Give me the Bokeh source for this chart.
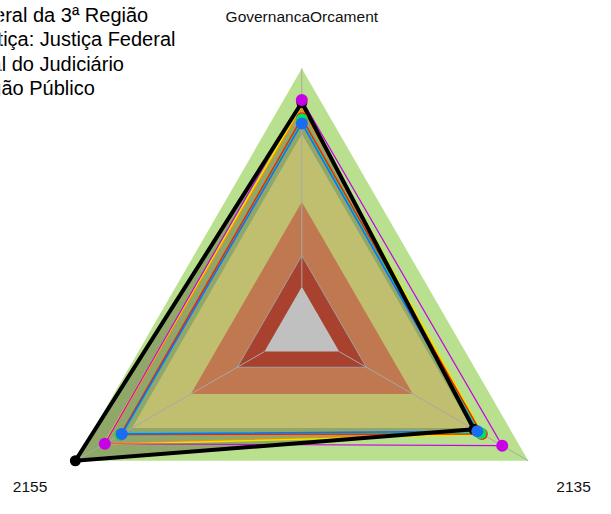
import numpy as np
from bokeh.plotting import figure
from bokeh.models import Label, Range1d
from bokeh.core.properties import value
from bokeh.embed import file_html
from bokeh.resources import INLINE

# ---- data ----
axes_labels = ["GovernancaOrcament", "2135", "2155"]
axes_angles_deg = [90, -30, 210]

band_levels = [1.0, 0.75, 0.49, 0.285, 0.165]
band_colors = ["#b8e08e", "#c0bf70", "#c07850", "#a8422e", "#c0c0c0"]

legend_labels = [
    "Tribunal Regional Federal da 3ª Região",
    "Ramo de Justiça: Justiça Federal",
    "Total do Judiciário",
    "Órgão Público",
]

black_vals = [0.87, 0.76, 1.00]
magenta_vals = [0.88, 0.885, 0.87]
orange_vals = [0.85, 0.79, 0.87]
yellow_vals = [0.86, 0.80, 0.875]
cyan_vals = [0.795, 0.785, 0.79]
green_vals = [0.805, 0.79, 0.80]
red_vals = [0.81, 0.795, 0.80]
blue_vals = [0.79, 0.775, 0.795]

FONT_NAME = "Liberation Sans"
FONT = value(FONT_NAME)
ang = np.deg2rad(axes_angles_deg)


def xy(vals):
    v = np.asarray(vals, dtype=float)
    return list(v * np.cos(ang)), list(v * np.sin(ang))


def closed(vals):
    x, y = xy(vals)
    return x + [x[0]], y + [y[0]]


W, H = 595, 498
K = 0.972                      # scale from the 611x514 layout to the canvas
S = 269.0 * K                  # pixels per unit radius
cx, cy = 310.0 * K, 339.0 * K  # centre in canvas pixels

p = figure(width=W, height=H, output_backend="svg", toolbar_location=None,
           x_axis_type=None, y_axis_type=None, min_border=0,
           x_range=Range1d(-cx / S, (W - cx) / S),
           y_range=Range1d(-(H - cy) / S, cy / S))
p.grid.visible = False
p.outline_line_color = None
p.background_fill_color = "white"

# outer band
bx, by = xy([band_levels[0]] * 3)
p.patch(bx, by, fill_color=band_colors[0], line_color=None)
# darker area inside main series polygon
sx, sy = xy(black_vals)
p.patch(sx, sy, fill_color="#8fa86a", line_color=None)
# inner bands
for lvl, col in zip(band_levels[1:], band_colors[1:]):
    bx, by = xy([lvl] * 3)
    p.patch(bx, by, fill_color=col, line_color=None)
# grid ring on red band
gx, gy = closed([band_levels[3]] * 3)
p.line(gx, gy, line_color="#a0a0a0", line_width=1)
# spokes (from the grey core outward)
ix, iy = xy([band_levels[4]] * 3)
ox, oy = xy([1.0] * 3)
for x0, y0, x1, y1 in zip(ix, iy, ox, oy):
    p.line([x0, x1], [y0, y1], line_color="#a8a8a8", line_width=1)

# series lines
for vals, col, lw in [(orange_vals, "#ff8c00", 1.5), (yellow_vals, "#e6e600", 1.5),
                      (cyan_vals, "#00c8c8", 1.5), (green_vals, "#00e060", 1.5),
                      (red_vals, "#ff2000", 1.5), (blue_vals, "#1a6cf0", 1.5),
                      (magenta_vals, "#c800e6", 1.2), (black_vals, "#000000", 4)]:
    lx, ly = closed(vals)
    p.line(lx, ly, line_color=col, line_width=lw, line_join="miter")

# series points
for vals, col, sz in [(black_vals, "#000000", 11), (magenta_vals, "#c800e6", 12),
                      (red_vals, "#ff2000", 12), (green_vals, "#00e060", 12),
                      (blue_vals, "#1a6cf0", 12)]:
    px_, py_ = xy(vals)
    p.scatter(px_, py_, size=sz, fill_color=col, line_color=None)

# axis labels
lab_r = 1.2
tx, ty = xy([lab_r] * 3)
p.text(tx, ty, text=axes_labels, text_align="center", text_baseline="middle",
       text_font=FONT, text_font_size="15.5px", text_color="#111111")

# legend texts (clipped at the left edge)
right_ends = [152, 180, 127, 97]
line_ys = [15, 40, 65, 90]
for t, rx, ly in zip(legend_labels, right_ends, line_ys):
    p.add_layout(Label(x=(rx * K - cx) / S, y=(cy - ly * K) / S, text=t,
                       text_align="right", text_baseline="middle",
                       text_font=FONT_NAME, text_font_size="20px", text_color="#000000"))

open("out.html", "w").write(file_html(p, INLINE))
